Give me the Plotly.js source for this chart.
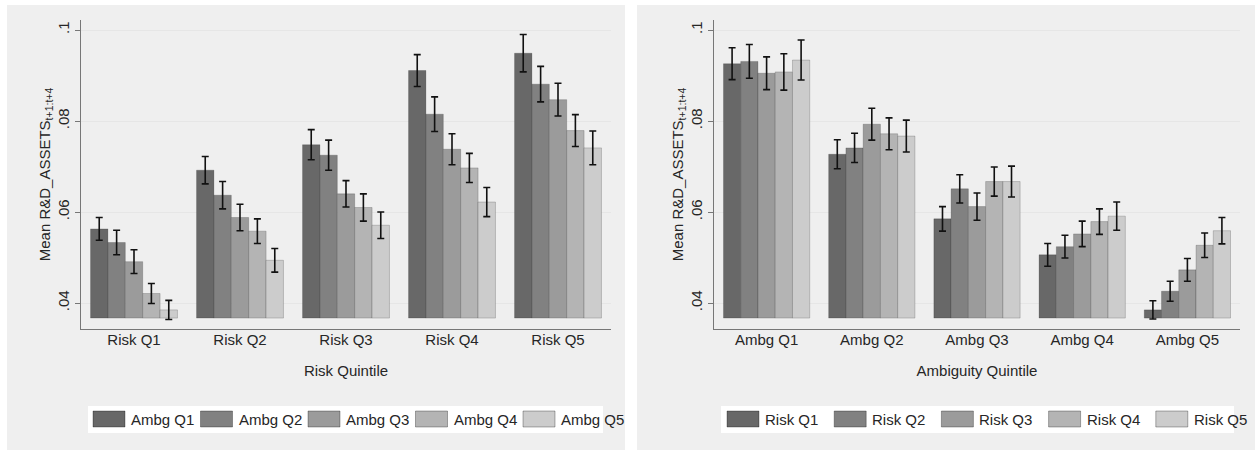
<!DOCTYPE html>
<html>
<head>
<meta charset="utf-8">
<script src="https://cdn.plot.ly/plotly-3.0.1.min.js"></script>
<style>html,body{margin:0;padding:0;background:#fff;}#chart{width:1255px;height:451px;}</style>
</head>
<body>
<div id="chart"></div>
<script>
// ---------- DATA ----------
const riskCategories = ["Risk Q1", "Risk Q2", "Risk Q3", "Risk Q4", "Risk Q5"];
const ambgCategories = ["Ambg Q1", "Ambg Q2", "Ambg Q3", "Ambg Q4", "Ambg Q5"];

// Left panel: mean by Risk quintile, series = Ambiguity quintile
const leftAmbgQ1 = [0.0563, 0.0692, 0.0748, 0.0911, 0.0949];
const leftAmbgQ2 = [0.0533, 0.0637, 0.0725, 0.0815, 0.0881];
const leftAmbgQ3 = [0.0491, 0.0588, 0.0640, 0.0738, 0.0847];
const leftAmbgQ4 = [0.0421, 0.0558, 0.0610, 0.0697, 0.0779];
const leftAmbgQ5 = [0.0385, 0.0494, 0.0571, 0.0622, 0.0741];
const leftErrQ1 = [0.0025, 0.0030, 0.0033, 0.0035, 0.0041];
const leftErrQ2 = [0.0027, 0.0030, 0.0033, 0.0038, 0.0039];
const leftErrQ3 = [0.0026, 0.0029, 0.0029, 0.0034, 0.0036];
const leftErrQ4 = [0.0022, 0.0027, 0.0030, 0.0032, 0.0035];
const leftErrQ5 = [0.0021, 0.0026, 0.0029, 0.0032, 0.0037];

// Right panel: mean by Ambiguity quintile, series = Risk quintile
const rightRiskQ1 = [0.0926, 0.0727, 0.0585, 0.0506, 0.0385];
const rightRiskQ2 = [0.0931, 0.0741, 0.0651, 0.0524, 0.0426];
const rightRiskQ3 = [0.0905, 0.0793, 0.0612, 0.0552, 0.0473];
const rightRiskQ4 = [0.0908, 0.0772, 0.0667, 0.0579, 0.0527];
const rightRiskQ5 = [0.0934, 0.0767, 0.0667, 0.0591, 0.0559];
const rightErrQ1 = [0.0035, 0.0032, 0.0027, 0.0025, 0.0020];
const rightErrQ2 = [0.0037, 0.0032, 0.0031, 0.0025, 0.0022];
const rightErrQ3 = [0.0036, 0.0035, 0.0030, 0.0028, 0.0025];
const rightErrQ4 = [0.0040, 0.0035, 0.0032, 0.0028, 0.0027];
const rightErrQ5 = [0.0044, 0.0035, 0.0034, 0.0031, 0.0029];

const leftSeriesNames = ["Ambg Q1", "Ambg Q2", "Ambg Q3", "Ambg Q4", "Ambg Q5"];
const rightSeriesNames = ["Risk Q1", "Risk Q2", "Risk Q3", "Risk Q4", "Risk Q5"];
const yTickVals = [0.04, 0.06, 0.08, 0.1];
const yTickText = [".04", ".06", ".08", ".1"];

// ---------- STYLE ----------
const W = 1255, H = 451;
const BAR_BASE = 0.0367;
const Y_RANGE = [0.0343, 0.1022];
const colors = ["#686868", "#818181", "#9b9b9b", "#b4b4b4", "#cccccc"];
const FONT = "Liberation Sans, Arial, Helvetica, sans-serif";
const TXT = "#262626";
const px = x => x / W;
const py = y => 1 - y / H;

const leftVals = [leftAmbgQ1, leftAmbgQ2, leftAmbgQ3, leftAmbgQ4, leftAmbgQ5];
const leftErrs = [leftErrQ1, leftErrQ2, leftErrQ3, leftErrQ4, leftErrQ5];
const rightVals = [rightRiskQ1, rightRiskQ2, rightRiskQ3, rightRiskQ4, rightRiskQ5];
const rightErrs = [rightErrQ1, rightErrQ2, rightErrQ3, rightErrQ4, rightErrQ5];

function makeTraces(cats, vals, errs, names, xa, ya) {
  return vals.map((v, i) => ({
    type: "bar",
    x: cats,
    y: v.map(d => d - BAR_BASE),
    base: BAR_BASE,
    name: names[i],
    xaxis: xa, yaxis: ya,
    marker: { color: colors[i], line: { color: "rgba(0,0,0,0.18)", width: 1 } },
    error_y: { type: "data", array: errs[i], visible: true, color: "#111", thickness: 1.6, width: 3.5 },
    showlegend: false,
    hoverinfo: "skip"
  }));
}

const traces = [].concat(
  makeTraces(riskCategories, leftVals, leftErrs, leftSeriesNames, "x", "y"),
  makeTraces(ambgCategories, rightVals, rightErrs, rightSeriesNames, "x2", "y2")
);

function yAxis() {
  return {
    domain: [py(329), py(20)],
    range: Y_RANGE,
    tickvals: yTickVals, ticktext: yTickText,
    tickangle: -90,
    ticks: "outside", ticklen: 5, tickcolor: "#777", tickwidth: 1,
    showgrid: true, gridcolor: "#e6e6e6", gridwidth: 1,
    showline: true, linecolor: "#777", linewidth: 1,
    zeroline: false,
    tickfont: { family: FONT, size: 15, color: TXT },
    title: { text: "Mean R&D_ASSETS<sub>t+1:t+4</sub>", font: { family: FONT, size: 15, color: TXT }, standoff: 0 },
    automargin: false, fixedrange: true
  };
}
function xAxis(domain, title, anchor) {
  return {
    domain: domain, anchor: anchor,
    range: [-0.5, 4.5],
    ticks: "", showline: true, linecolor: "#777", linewidth: 1,
    showgrid: false, zeroline: false,
    ticklabelstandoff: -3,
    tickfont: { family: FONT, size: 15, color: TXT },
    title: { text: title, font: { family: FONT, size: 15, color: TXT }, standoff: 18 },
    automargin: false, fixedrange: true
  };
}

const shapes = [
  { type: "rect", xref: "paper", yref: "paper", x0: px(7), x1: px(625), y0: py(450), y1: py(5), fillcolor: "#efefef", line: { width: 0 }, layer: "below" },
  { type: "rect", xref: "paper", yref: "paper", x0: px(637), x1: px(1255), y0: py(450), y1: py(5), fillcolor: "#efefef", line: { width: 0 }, layer: "below" }
];
const annotations = [];

function addLegend(names, boxX0, boxX1, swX0, step) {
  shapes.push({ type: "rect", xref: "paper", yref: "paper", x0: px(boxX0), x1: px(boxX1), y0: py(433), y1: py(406), fillcolor: "#ffffff", line: { width: 0 }, layer: "above" });
  names.forEach((n, i) => {
    const x0 = swX0 + i * step;
    shapes.push({ type: "rect", xref: "paper", yref: "paper", x0: px(x0), x1: px(x0 + 32), y0: py(427), y1: py(411), fillcolor: colors[i], line: { color: "rgba(0,0,0,0.3)", width: 1 }, layer: "above" });
    annotations.push({ xref: "paper", yref: "paper", x: px(x0 + 36), y: py(419.5), xanchor: "left", yanchor: "middle", text: n, showarrow: false, font: { family: FONT, size: 15, color: TXT } });
  });
}
addLegend(leftSeriesNames, 88, 603, 93, 107.5);
addLegend(rightSeriesNames, 721, 1234, 727, 107.2);

const layout = {
  width: W, height: H,
  margin: { l: 0, r: 0, t: 0, b: 0, pad: 0 },
  paper_bgcolor: "#ffffff", plot_bgcolor: "#ffffff",
  barmode: "group", bargap: 0.18, bargroupgap: 0,
  showlegend: false,
  font: { family: FONT, size: 15, color: TXT },
  xaxis: xAxis([px(81), px(611)], "Risk Quintile", "y"),
  yaxis: Object.assign(yAxis(), { anchor: "x" }),
  xaxis2: xAxis([px(714), px(1240)], "Ambiguity Quintile", "y2"),
  yaxis2: Object.assign(yAxis(), { anchor: "x2" }),
  shapes: shapes,
  annotations: annotations
};

Plotly.newPlot("chart", traces, layout, { staticPlot: true, displayModeBar: false });
</script>
</body>
</html>
